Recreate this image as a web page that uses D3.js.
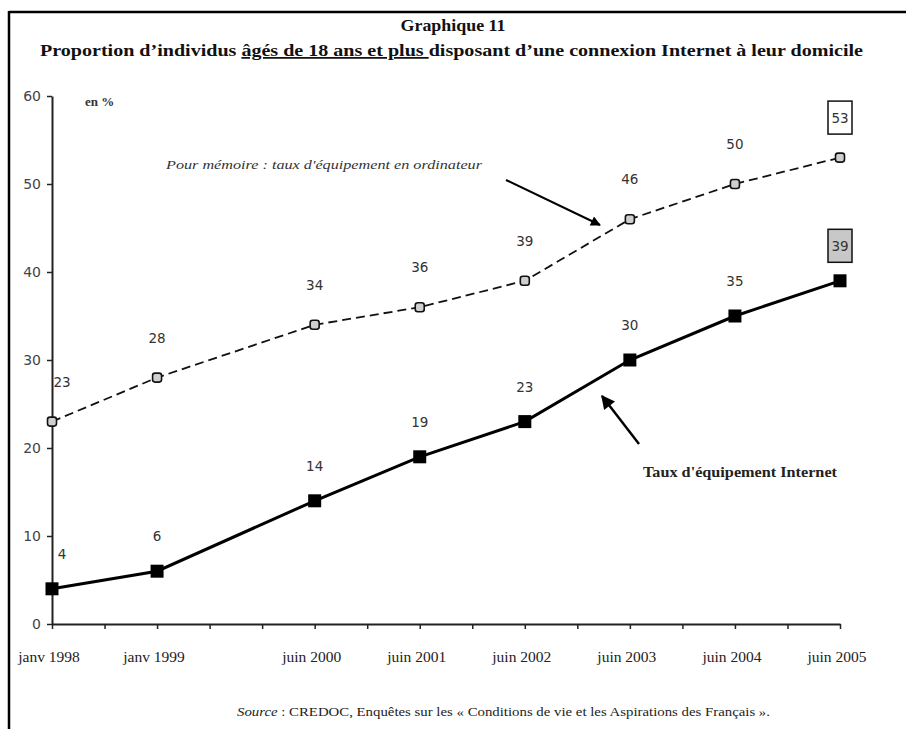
<!DOCTYPE html>
<html>
<head>
<meta charset="utf-8">
<script src="https://cdn.jsdelivr.net/npm/d3@7"></script>
<style>
  html, body { margin: 0; padding: 0; background: #fff; }
  svg { display: block; }
</style>
</head>
<body>
<svg id="chart" width="906" height="729"></svg>
<script>
// ---- data ----
const periods = [1998.0, 1999.0, 2000.5, 2001.5, 2002.5, 2003.5, 2004.5, 2005.5];
const periodLabels = ["janv 1998", "janv 1999", "juin 2000", "juin 2001", "juin 2002", "juin 2003", "juin 2004", "juin 2005"];
const internet = [4, 6, 14, 19, 23, 30, 35, 39];
const ordinateur = [23, 28, 34, 36, 39, 46, 50, 53];
const yTicks = [0, 10, 20, 30, 40, 50, 60];
const titleLine1 = "Graphique 11";
const titleParts = ["Proportion d\u2019individus ", "âgés de 18 ans et plus ", "disposant d\u2019une connexion Internet à leur domicile"];
const unitLabel = "en %";
const noteOrdi = "Pour mémoire : taux d'équipement en ordinateur";
const noteInternet = "Taux d'équipement Internet";
const sourceItalic = "Source";
const sourceText = " : CREDOC, Enquêtes sur les « Conditions de vie et les Aspirations des Français ».";

const svg = d3.select("#chart");
const serif = "'Liberation Serif', 'Times New Roman', serif";
const sans = "'DejaVu Sans', Verdana, sans-serif";

// frame (top and left edges)
svg.append("line").attr("x1", 9).attr("x2", 906).attr("y1", 12).attr("y2", 12).attr("stroke", "#000").attr("stroke-width", 2.5);
svg.append("line").attr("x1", 9).attr("x2", 9).attr("y1", 11).attr("y2", 729).attr("stroke", "#000").attr("stroke-width", 2.5);

// titles
svg.append("text").attr("x", 453).attr("y", 31).attr("text-anchor", "middle")
  .attr("font-family", serif).attr("font-weight", "bold").attr("font-size", 17.5).attr("fill", "#111")
  .attr("textLength", 105).attr("lengthAdjust", "spacingAndGlyphs")
  .text(titleLine1);
const t2 = svg.append("text").attr("x", 40).attr("y", 56)
  .attr("font-family", serif).attr("font-weight", "bold").attr("font-size", 17.5).attr("fill", "#111")
  .attr("textLength", 823).attr("lengthAdjust", "spacingAndGlyphs");
t2.append("tspan").text(titleParts[0]);
t2.append("tspan").attr("text-decoration", "underline").text(titleParts[1]);
t2.append("tspan").text(titleParts[2]);

// scales
const x = d3.scaleLinear().domain([1998, 2005.5]).range([52, 840]);
const y = d3.scaleLinear().domain([0, 60]).range([624, 96]);

// y axis
const gy = svg.append("g").attr("transform", `translate(${x(1998)},0)`)
  .call(d3.axisLeft(y).tickValues(yTicks).tickSize(5).tickSizeOuter(0).tickPadding(6));
gy.select(".domain").attr("stroke", "#222").attr("stroke-width", 2);
gy.selectAll(".tick line").attr("stroke", "#222").attr("stroke-width", 1.5);
gy.selectAll(".tick text").attr("font-family", sans).attr("font-size", 14).attr("fill", "#444");

// x axis
const gx = svg.append("g").attr("transform", `translate(0,${y(0)})`)
  .call(d3.axisBottom(x).tickValues(d3.range(1998, 2005.51, 0.5)).tickSize(5).tickSizeOuter(0).tickFormat(""));
gx.select(".domain").attr("stroke", "#222").attr("stroke-width", 2);
gx.selectAll(".tick line").attr("stroke", "#222").attr("stroke-width", 1.5);

// x labels
svg.append("g").selectAll("text").data(periods).join("text")
  .attr("x", d => x(d) - 3).attr("y", 662).attr("text-anchor", "middle")
  .attr("font-family", serif).attr("font-size", 15.5).attr("fill", "#222")
  .text((d, i) => periodLabels[i]);

// unit label
svg.append("text").attr("x", 85).attr("y", 106).attr("font-family", serif).attr("font-weight", "bold")
  .attr("font-size", 13).attr("fill", "#333").text(unitLabel);

// lines
const line = d3.line().x((d, i) => x(periods[i])).y(d => y(d));
svg.append("path").datum(ordinateur).attr("d", line).attr("fill", "none")
  .attr("stroke", "#111").attr("stroke-width", 1.8).attr("stroke-dasharray", "9,5");
svg.append("path").datum(internet).attr("d", line).attr("fill", "none")
  .attr("stroke", "#000").attr("stroke-width", 3);

// markers
svg.append("g").selectAll("rect").data(ordinateur).join("rect")
  .attr("x", (d, i) => x(periods[i]) - 4.5).attr("y", d => y(d) - 4.5)
  .attr("width", 9).attr("height", 9).attr("rx", 2.5)
  .attr("fill", "#cfcfcf").attr("stroke", "#111").attr("stroke-width", 1.6);
svg.append("g").selectAll("rect").data(internet).join("rect")
  .attr("x", (d, i) => x(periods[i]) - 6.5).attr("y", d => y(d) - 6.5)
  .attr("width", 13).attr("height", 13).attr("fill", "#000");

// data labels
const last = periods.length - 1;
function labels(values, dy, boxFill) {
  const g = svg.append("g");
  values.forEach((v, i) => {
    const cx = x(periods[i]) + (i === 0 ? 10 : 0);
    const cy = y(v) - dy;
    if (i === last) {
      g.append("rect").attr("x", cx - 12).attr("y", cy - 16.5).attr("width", 24).attr("height", 33)
        .attr("fill", boxFill).attr("stroke", "#111").attr("stroke-width", 1.5);
    }
    g.append("text").attr("x", cx).attr("y", cy + 5).attr("text-anchor", "middle")
      .attr("font-family", sans).attr("font-size", 13.5).attr("fill", "#333").text(v);
  });
}
labels(ordinateur, 40, "#fff");
labels(internet, 35, "#c8c8c8");

// annotations
const defs = svg.append("defs");
defs.append("marker").attr("id", "ah1").attr("viewBox", "0 0 10 10").attr("refX", 9).attr("refY", 5)
  .attr("markerWidth", 6).attr("markerHeight", 5).attr("orient", "auto").attr("markerUnits", "strokeWidth")
  .append("path").attr("d", "M0,0 L10,5 L0,10 z").attr("fill", "#000");
defs.append("marker").attr("id", "ah2").attr("viewBox", "0 0 10 10").attr("refX", 9).attr("refY", 5)
  .attr("markerWidth", 6.5).attr("markerHeight", 5.5).attr("orient", "auto").attr("markerUnits", "strokeWidth")
  .append("path").attr("d", "M0,0 L10,5 L0,10 z").attr("fill", "#000");

svg.append("line").attr("x1", 506).attr("y1", 180).attr("x2", 600).attr("y2", 225)
  .attr("stroke", "#000").attr("stroke-width", 2).attr("marker-end", "url(#ah1)");
svg.append("line").attr("x1", 639).attr("y1", 444).attr("x2", 602).attr("y2", 396)
  .attr("stroke", "#000").attr("stroke-width", 2.5).attr("marker-end", "url(#ah2)");

svg.append("text").attr("x", 166).attr("y", 169).attr("font-family", serif).attr("font-style", "italic")
  .attr("font-size", 13.5).attr("fill", "#333").attr("textLength", 316).attr("lengthAdjust", "spacingAndGlyphs")
  .text(noteOrdi);
svg.append("text").attr("x", 643).attr("y", 477).attr("font-family", serif).attr("font-weight", "bold")
  .attr("font-size", 14).attr("fill", "#222").attr("textLength", 194).attr("lengthAdjust", "spacingAndGlyphs")
  .text(noteInternet);

// source
const src = svg.append("text").attr("x", 237).attr("y", 716).attr("font-family", serif)
  .attr("font-size", 12.5).attr("fill", "#222").attr("textLength", 533).attr("lengthAdjust", "spacingAndGlyphs");
src.append("tspan").attr("font-style", "italic").text(sourceItalic);
src.append("tspan").text(sourceText);
</script>
</body>
</html>
